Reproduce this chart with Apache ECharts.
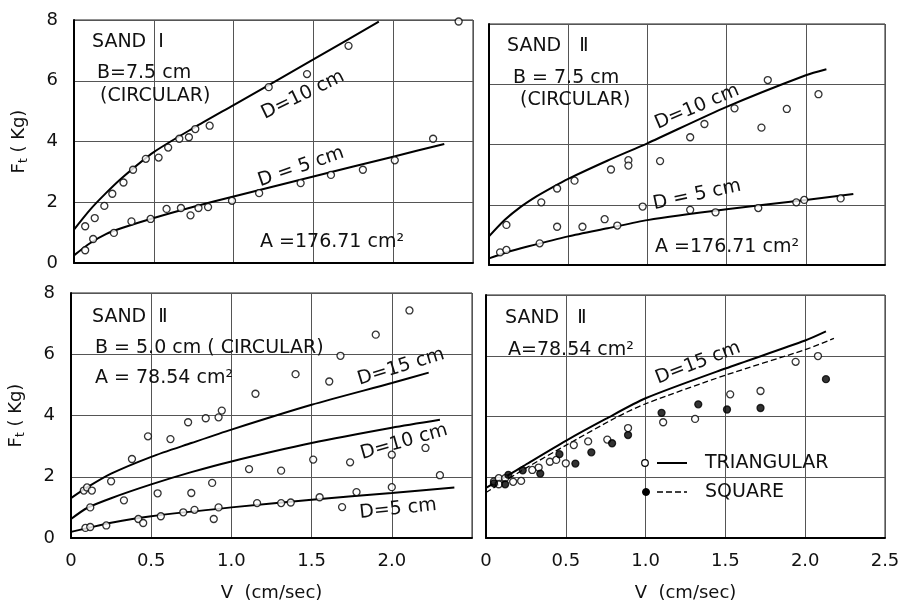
<!DOCTYPE html>
<html>
<head>
<meta charset="utf-8">
<script src="https://cdn.jsdelivr.net/npm/echarts@6/dist/echarts.min.js"></script>
<style>
  html, body { margin: 0; padding: 0; background: #fff; }
  #chart { width: 908px; height: 605px; }
</style>
</head>
<body>
<div id="chart"></div>
<script>
// V (cm/sec) ticks, Ft (Kg) ticks
const xTicks = [0, 0.5, 1.0, 1.5, 2.0, 2.5];
const yTicks = [0, 2, 4, 6, 8];

// panel 1: SAND I, B=7.5 cm circular
const s1D10Pts = [[0.07, 1.21], [0.13, 1.48], [0.19, 1.88], [0.24, 2.28], [0.31, 2.65], [0.37, 3.07],
  [0.45, 3.43], [0.53, 3.47], [0.59, 3.8], [0.66, 4.09], [0.72, 4.14], [0.76, 4.41], [0.85, 4.52],
  [1.22, 5.79], [1.46, 6.22], [1.72, 7.15], [2.13, 8.09], [2.41, 7.95]];
const s1D10Fit = [[0, 1.1], [0.1, 1.75], [0.2, 2.3], [0.3, 2.8], [0.5, 3.65], [0.75, 4.45], [1.0, 5.2], [1.5, 6.7], [1.91, 7.95]];
const s1D5Pts = [[0.07, 0.42], [0.12, 0.79], [0.25, 0.99], [0.36, 1.37], [0.48, 1.45], [0.58, 1.78],
  [0.67, 1.81], [0.73, 1.57], [0.78, 1.81], [0.84, 1.84], [0.99, 2.05], [1.16, 2.3], [1.42, 2.63],
  [1.61, 2.9], [1.81, 3.07], [2.01, 3.38], [2.25, 4.09]];
const s1D5Fit = [[0, 0.25], [0.1, 0.65], [0.2, 0.95], [0.3, 1.15], [0.5, 1.48], [0.75, 1.85], [1.0, 2.19], [1.5, 2.85], [2.0, 3.5], [2.32, 3.92]];

// panel 2: SAND II, B=7.5 cm circular
const s2D10Pts = [[0.11, 1.33], [0.33, 2.08], [0.43, 2.54], [0.54, 2.8], [0.77, 3.17], [0.88, 3.48],
  [0.88, 3.3], [1.08, 3.45], [1.27, 4.24], [1.36, 4.68], [1.55, 5.2], [1.76, 6.14], [1.72, 4.56],
  [1.88, 5.18], [2.08, 5.67]];
const s2D10Fit = [[0, 0.95], [0.1, 1.5], [0.2, 1.93], [0.3, 2.28], [0.4, 2.58], [0.5, 2.86], [0.75, 3.47], [1.0, 4.04], [1.5, 5.25], [2.0, 6.3], [2.13, 6.5]];
const s2D5Pts = [[0.07, 0.42], [0.11, 0.5], [0.32, 0.72], [0.43, 1.27], [0.59, 1.27], [0.73, 1.52],
  [0.81, 1.31], [0.97, 1.94], [1.27, 1.83], [1.43, 1.75], [1.7, 1.89], [1.94, 2.08], [1.99, 2.16], [2.22, 2.21]];
const s2D5Fit = [[0, 0.22], [0.1, 0.4], [0.25, 0.62], [0.5, 0.95], [0.75, 1.22], [1.0, 1.49], [1.5, 1.85], [2.0, 2.16], [2.3, 2.36]];

// panel 3: SAND II, B=5.0 cm circular
const s3D15Pts = [[0.08, 1.55], [0.1, 1.65], [0.13, 1.55], [0.25, 1.85], [0.38, 2.58], [0.48, 3.32],
  [0.62, 3.23], [0.73, 3.78], [0.84, 3.91], [0.92, 3.94], [0.94, 4.16], [1.15, 4.71], [1.4, 5.35],
  [1.61, 5.11], [1.68, 5.95], [1.9, 6.64], [2.11, 7.43]];
const s3D15Fit = [[0, 1.3], [0.1, 1.65], [0.25, 2.1], [0.5, 2.65], [0.75, 3.1], [1.0, 3.54], [1.5, 4.35], [2.0, 5.06], [2.23, 5.4]];
const s3D10Pts = [[0.12, 1.0], [0.33, 1.23], [0.54, 1.46], [0.75, 1.47], [0.88, 1.8], [1.11, 2.25],
  [1.31, 2.2], [1.51, 2.56], [1.74, 2.47], [2.0, 2.72], [2.21, 2.94]];
const s3D10Fit = [[0, 0.62], [0.1, 0.98], [0.25, 1.3], [0.5, 1.75], [0.75, 2.15], [1.0, 2.5], [1.5, 3.1], [2.0, 3.6], [2.3, 3.86]];
const s3D5Pts = [[0.09, 0.33], [0.12, 0.36], [0.22, 0.41], [0.42, 0.62], [0.45, 0.49], [0.56, 0.71],
  [0.7, 0.84], [0.77, 0.92], [0.89, 0.62], [0.92, 1.0], [1.16, 1.14], [1.31, 1.14], [1.37, 1.16],
  [1.55, 1.33], [1.78, 1.5], [2.0, 1.66], [1.69, 1.01], [2.3, 2.05]];
const s3D5Fit = [[0, 0.2], [0.1, 0.32], [0.25, 0.5], [0.5, 0.71], [1.0, 1.0], [1.5, 1.25], [2.0, 1.47], [2.39, 1.65]];

// panel 4: SAND II, D=15 cm, triangular vs square
const triPts = [[0.05, 1.86], [0.08, 1.97], [0.08, 1.77], [0.12, 1.97], [0.17, 1.85], [0.22, 1.88],
  [0.29, 2.24], [0.33, 2.32], [0.4, 2.51], [0.44, 2.57], [0.5, 2.46], [0.55, 3.06], [0.64, 3.18],
  [0.76, 3.24], [0.89, 3.62], [1.11, 3.81], [1.31, 3.92], [1.53, 4.73], [1.72, 4.84], [1.94, 5.8], [2.08, 5.99]];
const triFit = [[0, 1.65], [0.15, 2.1], [0.25, 2.42], [0.5, 3.2], [0.75, 3.92], [1.0, 4.6], [1.5, 5.58], [2.0, 6.5], [2.13, 6.8]];
const sqPts = [[0.05, 1.8], [0.12, 1.77], [0.14, 2.08], [0.23, 2.23], [0.34, 2.12], [0.46, 2.76],
  [0.56, 2.45], [0.66, 2.82], [0.79, 3.12], [0.89, 3.39], [1.1, 4.12], [1.33, 4.4], [1.51, 4.23],
  [1.72, 4.28], [2.13, 5.23]];
const sqFit = [[0, 1.5], [0.15, 1.98], [0.25, 2.3], [0.5, 3.05], [0.82, 3.98], [1.0, 4.42], [1.5, 5.36], [2.0, 6.2], [2.18, 6.57]];

const FONT = '"DejaVu Sans", sans-serif';
const chart = echarts.init(document.getElementById('chart'));

const grids = [
  { left: 74, top: 20, width: 399, height: 243 },
  { left: 489, top: 24, width: 396, height: 241 },
  { left: 71, top: 293, width: 401, height: 245 },
  { left: 486, top: 295, width: 399, height: 243 },
].map(g => Object.assign({ show: true, borderColor: '#222', borderWidth: 1 }, g));

function xAxis(i, showLabels, last) {
  return {
    type: 'value', gridIndex: i, min: 0, max: 2.5, interval: 0.5,
    name: showLabels ? 'V  (cm/sec)' : '', nameLocation: 'middle', nameGap: 46,
    nameTextStyle: { fontFamily: FONT, fontSize: 18, color: '#111' },
    axisLine: { show: true, lineStyle: { color: '#000', width: 2 } },
    axisTick: { show: false },
    axisLabel: {
      show: showLabels, margin: 14, fontFamily: FONT, fontSize: 18, color: '#111',
      formatter: v => v === 0 ? '0' : (v === 2.5 && !last ? '' : v.toFixed(1)),
    },
    splitLine: { show: true, lineStyle: { color: '#555', width: 1 } },
  };
}

function yAxis(i, showLabels) {
  return {
    type: 'value', gridIndex: i, min: 0, max: 8, interval: 2,
    name: showLabels ? '{a|F}{b|t}{a| ( Kg)}' : '', nameLocation: 'middle', nameGap: 44, nameRotate: 90,
    nameTextStyle: {
      rich: {
        a: { fontFamily: FONT, fontSize: 18, color: '#111' },
        b: { fontFamily: FONT, fontSize: 12, color: '#111', padding: [10, 0, 0, 0] },
      },
    },
    axisLine: { show: true, lineStyle: { color: '#000', width: 2 } },
    axisTick: { show: false },
    axisLabel: { show: showLabels, margin: 16, fontFamily: FONT, fontSize: 18, color: '#111' },
    splitLine: { show: true, lineStyle: { color: '#555', width: 1 } },
  };
}

function pts(i, data, filled) {
  return {
    type: 'scatter', xAxisIndex: i, yAxisIndex: i, data: data, symbol: 'circle', symbolSize: 7,
    itemStyle: { color: filled ? '#000' : '#fff', borderColor: '#000', borderWidth: 1.3 },
    z: 5, silent: true,
  };
}

function fit(i, data, dashed) {
  return {
    type: 'line', xAxisIndex: i, yAxisIndex: i, data: data, smooth: 0.25,
    showSymbol: false,
    lineStyle: { color: '#000', width: dashed ? 1.3 : 2, type: dashed ? [6, 3] : 'solid' },
    z: 4, silent: true,
  };
}

function txt(x, y, s, rot, align) {
  return {
    type: 'text', x: x, y: y, rotation: (rot || 0) * Math.PI / 180, z: 10,
    style: { text: s, font: '19px ' + FONT, fill: '#111', align: align || 'left', verticalAlign: 'middle' },
  };
}

const graphics = [
  txt(92, 42, 'SAND  Ⅰ'), txt(97, 73, 'B=7.5 cm'), txt(100, 96, '(CIRCULAR)'),
  txt(303, 95, 'D=10 cm', 26, 'center'), txt(301, 167, 'D = 5 cm', 19, 'center'),
  txt(260, 242, 'A =176.71 cm²'),

  txt(507, 46, 'SAND   Ⅱ'), txt(513, 78, 'B = 7.5 cm'), txt(520, 100, '(CIRCULAR)'),
  txt(697, 107, 'D=10 cm', 23, 'center'), txt(697, 195, 'D = 5 cm', 12, 'center'),
  txt(655, 247, 'A =176.71 cm²'),

  txt(92, 317, 'SAND  Ⅱ'), txt(95, 348, 'B = 5.0 cm ( CIRCULAR)'), txt(95, 378, 'A = 78.54 cm²'),
  txt(401, 367, 'D=15 cm', 17, 'center'), txt(404, 442, 'D=10 cm', 16, 'center'),
  txt(398, 509, 'D=5 cm', 6, 'center'),

  txt(505, 318, 'SAND   Ⅱ'), txt(508, 350, 'A=78.54 cm²'),
  txt(698, 363, 'D=15 cm', 21, 'center'),

  { type: 'circle', shape: { cx: 645, cy: 463, r: 3.3 }, style: { fill: '#fff', stroke: '#000', lineWidth: 1.2 }, z: 10 },
  { type: 'line', shape: { x1: 657, y1: 463, x2: 687, y2: 463 }, style: { stroke: '#000', lineWidth: 2 }, z: 10 },
  txt(705, 463, 'TRIANGULAR'),
  { type: 'circle', shape: { cx: 646, cy: 492, r: 3.5 }, style: { fill: '#000', stroke: '#000', lineWidth: 1 }, z: 10 },
  { type: 'line', shape: { x1: 657, y1: 492, x2: 687, y2: 492 }, style: { stroke: '#000', lineWidth: 1.3, lineDash: [6, 3] }, z: 10 },
  txt(705, 492, 'SQUARE'),
];

const option = {
  backgroundColor: '#fff',
  animation: false,
  grid: grids,
  xAxis: [xAxis(0, false), xAxis(1, false), xAxis(2, true, false), xAxis(3, true, true)],
  yAxis: [yAxis(0, true), yAxis(1, false), yAxis(2, true), yAxis(3, false)],
  series: [
    fit(0, s1D10Fit), fit(0, s1D5Fit), pts(0, s1D10Pts), pts(0, s1D5Pts),
    fit(1, s2D10Fit), fit(1, s2D5Fit), pts(1, s2D10Pts), pts(1, s2D5Pts),
    fit(2, s3D15Fit), fit(2, s3D10Fit), fit(2, s3D5Fit), pts(2, s3D15Pts), pts(2, s3D10Pts), pts(2, s3D5Pts),
    fit(3, triFit), fit(3, sqFit, true), pts(3, triPts), pts(3, sqPts, true),
  ],
  graphic: graphics,
};
chart.setOption(option);
</script>
</body>
</html>
